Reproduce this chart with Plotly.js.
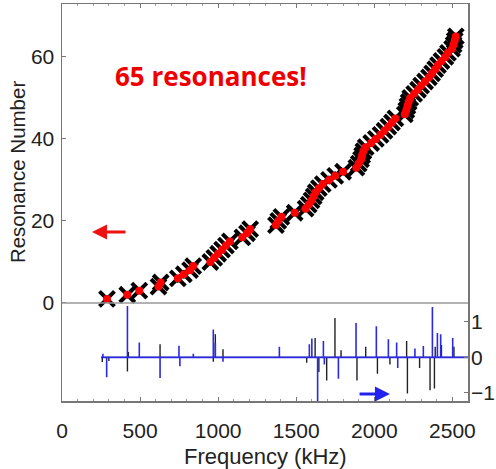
<!DOCTYPE html>
<html>
<head>
<meta charset="utf-8">
<script src="https://cdn.plot.ly/plotly-3.0.1.min.js"></script>
<style>html,body{margin:0;padding:0;background:#fff;}#chart{width:496px;height:469px;}</style>
</head>
<body>
<div id="chart"></div>
<script>
// Resonance number vs frequency (kHz)
const resonanceNumber = [1,2,3,4,5,6,7,8,9,10,11,12,13,14,15,16,17,18,19,20,21,22,23,24,25,26,27,28,29,30,31,32,33,34,35,36,37,38,39,40,41,42,43,44,45,46,47,48,49,50,51,52,53,54,55,56,57,58,59,60,61,62,63,64,65];
const resonanceFreq = [288,418,495,618,632,742,780,820,840,950,975,1000,1025,1050,1075,1155,1185,1205,1370,1385,1405,1490,1560,1580,1598,1612,1625,1645,1670,1710,1750,1800,1885,1900,1915,1922,1930,1945,1980,2010,2040,2065,2090,2113,2135,2195,2205,2212,2220,2230,2255,2280,2300,2325,2350,2370,2390,2408,2430,2455,2472,2498,2508,2515,2522];

// Spectrum spikes (frequency kHz, amplitude, right axis)
const spectrumStart = 250, spectrumEnd = 2600;
const blueSpikeFreq = [262,286,419,495,628,749,755,841,969,982,1031,1392,1584,1600,1637,1674,1680,1770,1883,2013,2090,2143,2150,2260,2314,2372,2404,2425,2502];
const blueSpikeVal  = [0.1,-0.56,1.45,0.42,-0.58,0.33,-0.25,0.1,0.79,0.4,-0.12,0.3,0.37,0.53,-1.4,0.46,-0.2,-0.6,0.97,0.88,0.51,0.42,-0.3,0.25,0.32,1.42,0.69,0.65,0.55];
const blackSpikeFreq = [258,300,419,425,628,969,982,1031,1567,1621,1645,1695,1748,1787,1889,1945,2020,2100,2207,2212,2290,2357,2385,2390,2430,2510];
const blackSpikeVal  = [-0.13,-0.1,-0.4,0.15,0.37,-0.12,0.65,0.23,-0.15,0.55,-0.41,-0.65,1.11,0.2,-0.65,0.3,-0.46,-0.2,0.46,-1.02,-0.3,-0.93,-0.88,0.3,0.35,0.3];

function spikeLine(freqs, vals) {
  const pairs = freqs.map((f, i) => [f, vals[i]]).sort((a, b) => a[0] - b[0]);
  const x = [spectrumStart], y = [0];
  pairs.forEach(([f, v]) => { x.push(f, f, f); y.push(0, v, 0); });
  x.push(spectrumEnd); y.push(0);
  return {x, y};
}
const blueLine = spikeLine(blueSpikeFreq, blueSpikeVal);
const blackLine = spikeLine(blackSpikeFreq, blackSpikeVal);

const traces = [
  {x: blackLine.x, y: blackLine.y, yaxis: 'y2', type: 'scatter', mode: 'lines',
   line: {color: '#222222', width: 1.4}, hoverinfo: 'skip'},
  {x: blueLine.x, y: blueLine.y, yaxis: 'y2', type: 'scatter', mode: 'lines',
   line: {color: '#2a2ae6', width: 1.6}, hoverinfo: 'skip'},
  {x: resonanceFreq, y: resonanceNumber, type: 'scatter', mode: 'markers',
   marker: {symbol: 'x-thin-open', size: 15, color: '#000', line: {color: '#000', width: 4}}},
  {x: resonanceFreq, y: resonanceNumber, type: 'scatter', mode: 'markers',
   marker: {symbol: 'circle', size: 8, color: '#ff0000', line: {width: 0}}}
];

const tickFont = {family: 'Liberation Sans, Arial, sans-serif', size: 21, color: '#222'};
const layout = {
  width: 496, height: 469,
  margin: {l: 62, r: 28, t: 4, b: 68},
  paper_bgcolor: '#fff', plot_bgcolor: '#fff',
  showlegend: false,
  xaxis: {range: [0, 2600], tickvals: [0,500,1000,1500,2000,2500], ticks: 'inside', ticklen: 4,
          tickcolor: '#777', showgrid: false, zeroline: false, showline: true, linecolor: '#777',
          linewidth: 1.5, mirror: 'ticks', tickfont: tickFont, ticklabelstandoff: 10,
          minor: {dtick: 100, ticks: 'inside', ticklen: 2, tickcolor: '#999'}},
  yaxis: {range: [-23.9, 72.9], tickvals: [0,20,40,60], ticks: 'inside', ticklen: 4,
          tickcolor: '#777', showgrid: false, zeroline: false, showline: true, linecolor: '#777',
          linewidth: 1.5, mirror: true, tickfont: tickFont, ticklabelstandoff: 2},
  yaxis2: {range: [-1.23, 9.97], overlaying: 'y', side: 'right', tickvals: [-1,0,1],
           ticktext: ['\u22121','0','1'], ticks: 'inside', ticklen: 4, tickcolor: '#777',
           showgrid: false, zeroline: false, showline: false, tickfont: tickFont, ticklabelstandoff: 2},
  shapes: [
    {type: 'line', xref: 'paper', x0: 0, x1: 1, yref: 'y', y0: 0, y1: 0,
     line: {color: '#999', width: 1.5}}
  ],
  annotations: [
    {text: '65 resonances!', xref: 'x', yref: 'y', x: 954, y: 55.4, showarrow: false,
     xanchor: 'center', yanchor: 'middle',
     font: {family: 'Open Sans, sans-serif', size: 26, color: '#ee0000', weight: 'bold'}},
    {text: '', xref: 'x', yref: 'y', x: 192, y: 17.3, axref: 'x', ayref: 'y', ax: 416, ay: 17.3,
     showarrow: true, arrowhead: 2, arrowsize: 1, arrowwidth: 3, arrowcolor: '#ee1111'},
    {text: '', xref: 'x', yref: 'y2', x: 2100, y: -1.03, axref: 'x', ayref: 'y2', ax: 1896, ay: -1.03,
     showarrow: true, arrowhead: 2, arrowsize: 1, arrowwidth: 3, arrowcolor: '#2222ee'},
    {text: 'Resonance Number', xref: 'paper', yref: 'paper', x: -0.108, y: 0.577, textangle: -90,
     xanchor: 'center', yanchor: 'middle',
     showarrow: false, font: {family: 'Liberation Sans, Arial, sans-serif', size: 20.5, color: '#222'}},
    {text: 'Frequency (kHz)', xref: 'paper', yref: 'paper', x: 0.5, y: -0.14, showarrow: false,
     xanchor: 'center', yanchor: 'middle',
     font: {family: 'Liberation Sans, Arial, sans-serif', size: 22, color: '#222'}}
  ]
};

Plotly.newPlot('chart', traces, layout, {displayModeBar: false, staticPlot: true});
</script>
</body>
</html>
